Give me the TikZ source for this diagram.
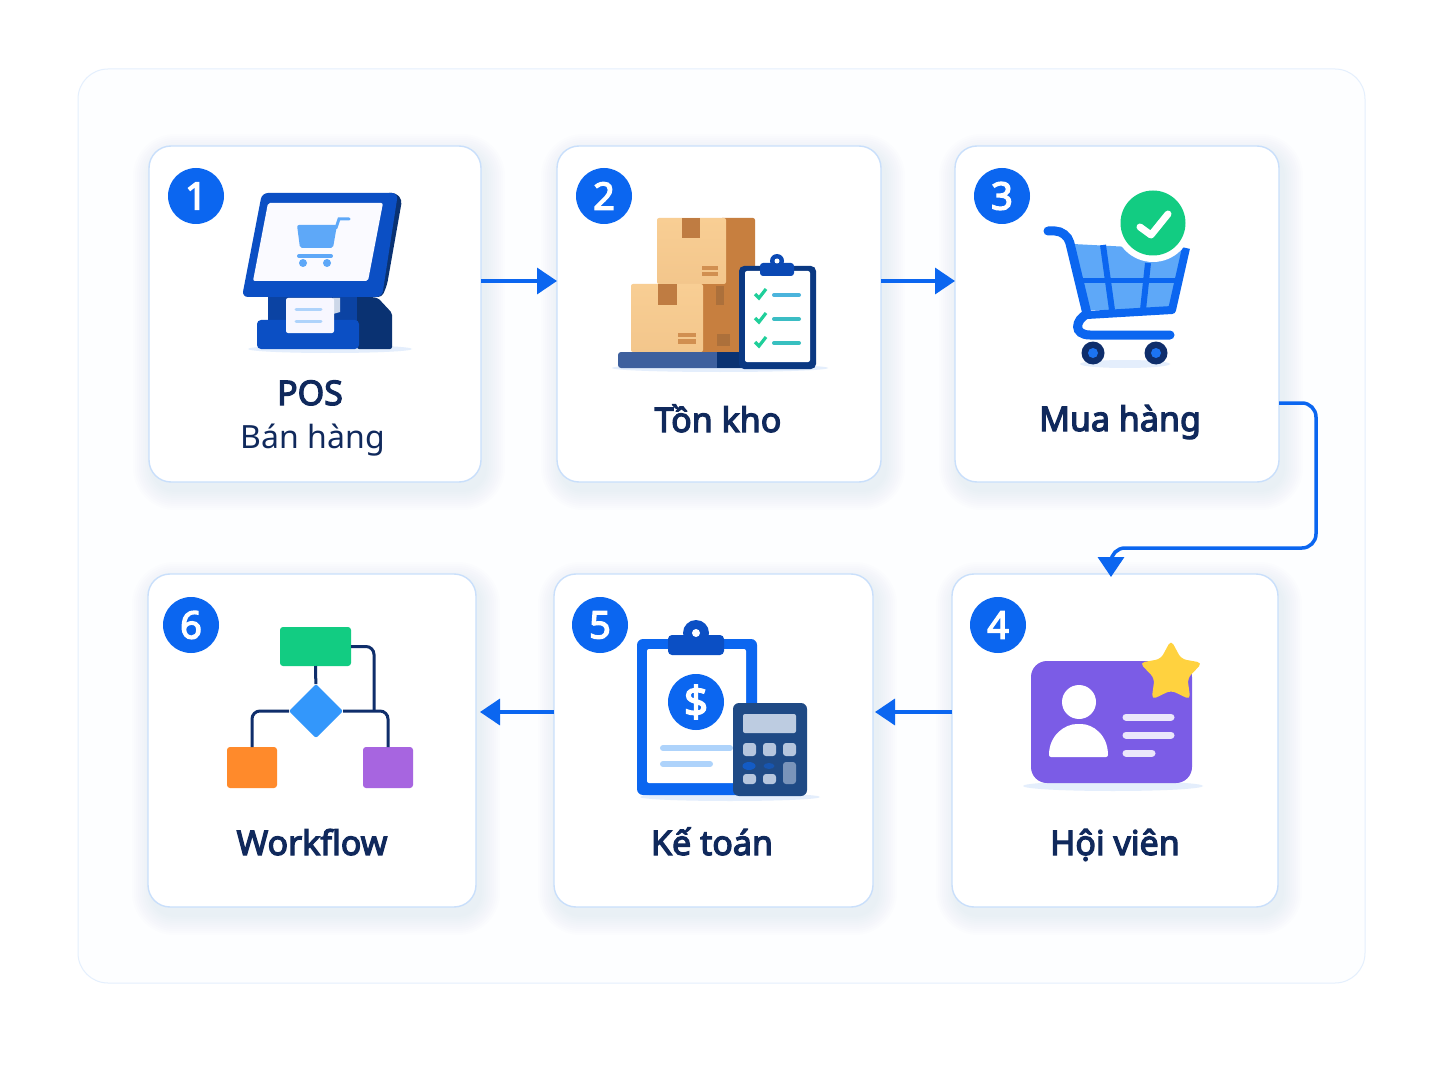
\documentclass[tikz,border=0pt]{standalone}
\usepackage{fontspec}
\setmainfont{Noto Sans}[BoldFont={Noto Sans},BoldFeatures={FakeBold=3.5}]
\usetikzlibrary{arrows.meta,shapes.geometric}
\definecolor{flow}{HTML}{0B66F0}
\definecolor{ink}{HTML}{10295C}
\definecolor{rim}{HTML}{C9DFFB}
\definecolor{glow}{HTML}{2F78F0}
\definecolor{floor}{HTML}{E4EEFC}
\definecolor{royal}{HTML}{0B4FC4}
\definecolor{deep}{HTML}{0A3272}
\definecolor{sky}{HTML}{5EA8F8}
\definecolor{boxa}{HTML}{F8CE94}
\definecolor{boxb}{HTML}{C77F3F}
\definecolor{boxc}{HTML}{BF7C42}
\definecolor{tick}{HTML}{1FCF9A}
\definecolor{mint}{HTML}{12CC82}
\definecolor{line}{HTML}{0F2E6B}
\definecolor{slate}{HTML}{1F4A85}
\definecolor{key}{HTML}{B6C6DE}
\definecolor{violet}{HTML}{7B5CE6}
\definecolor{dia}{HTML}{3397FB}
\definecolor{amber}{HTML}{FF8A2B}
\definecolor{lilac}{HTML}{A765E0}
\definecolor{gold}{HTML}{FFD23F}
\definecolor{paper}{HTML}{FDFEFF}
\begin{document}
\begin{tikzpicture}[x=0.5pt, y=-0.5pt, outer sep=0pt, inner sep=0pt]
\tikzstyle{p} = [draw=rim!50, fill=paper, line width=0.5pt, rounded corners=15pt, minimum width=643.5pt, minimum height=457pt]
\tikzstyle{c} = [draw=rim, fill=white, line width=0.7pt, rounded corners=11pt]
\tikzstyle{n} = [circle, fill=flow, text=white, minimum size=28pt, font=\fontsize{19}{19}\selectfont\bfseries]
\tikzstyle{l} = [anchor=base, text=ink, font=\fontsize{17}{20}\selectfont\bfseries]
\tikzstyle{s} = [anchor=base, text=ink, font=\fontsize{16}{20}\selectfont]
\tikzstyle{e} = [draw=flow, line width=1.75pt, -{Triangle[width=13pt,length=10pt]}]
\tikzstyle{w} = [draw=line, line width=1.5pt, rounded corners=4pt]
\tikzstyle{b} = [rectangle, rounded corners=1.5pt]
\useasboundingbox (0,0) rectangle (1448,1086);
\fill[white] (0,0) rectangle (1448,1086);

\node[p] (panel) at (721.5,526) {};

\foreach \n/\x/\y/\w/\h in {c1/315/314/332/336, c2/719/314/324/336, c3/1117/314/324/336, c4/1115/740.5/326/333, c5/713.5/740.5/319/333, c6/312/740.5/328/333} {
  \foreach \s in {1,...,10}
    \fill[glow, opacity=0.006, rounded corners={(11+\s)*1pt}] ({\x-\w/2-2*\s+4},{\y-\h/2-2*\s+8}) rectangle ({\x+\w/2+2*\s+4},{\y+\h/2+2*\s+8});
  \node[c, minimum width=\w*0.5pt, minimum height=\h*0.5pt] (\n) at (\x,\y) {};
}

\draw[e] ([yshift=16.5pt]c1.east) to ([yshift=16.5pt]c2.west);
\draw[e] ([yshift=16.5pt]c2.east) to ([yshift=16.5pt]c3.west);
\draw[e, rounded corners=7pt, shorten >=-1.5pt] ([yshift=-44.5pt]c3.east) -- ++(37,0) -- ++(0,145) -| ([xshift=-2pt]c4.north);
\draw[e, shorten >=1pt] ([yshift=14.25pt]c4.west) to ([yshift=14.25pt]c5.east);
\draw[e, shorten >=2pt] ([yshift=14.25pt]c5.west) to ([yshift=14.25pt]c6.east);

\node[n] (n1) at (196,196) {1};
\node[n] (n2) at (604,196) {2};
\node[n] (n3) at (1002,196) {3};
\node[n] (n4) at (998,625) {4};
\node[n] (n5) at (600,625) {5};
\node[n] (n6) at (191,625) {6};

\node[l] (pos) at (310,405) {POS};
\node[s] (ban) at (313,448) {Bán hàng};
\node[l] (ton) at (718,432) {Tồn kho};
\node[l] (mua) at (1120,431) {Mua hàng};
\node[l] (hoi) at (1115,855) {Hội viên};
\node[l] (ke) at (712,855) {Kế toán};
\node[l] (wf) at (312,855) {Workflow};

% POS
\fill[floor] (330,349) ellipse (82 and 4);
\fill[royal!60!deep] (268,290) rectangle (358,325);
\fill[deep, rounded corners=1pt] (357,295) -- (378,298) -- (392,313) -- (392,349) -- (357,349) -- cycle;
\fill[royal, rounded corners=2pt] (257,320) rectangle (359,349);
\fill[deep, rounded corners=2pt] (385,193) -- (396,193) -- (402,200) -- (387,285) -- (382,297) -- (370,297) -- cycle;
\fill[royal, rounded corners=3pt] (262,193) -- (398,193) -- (382,297) -- (242,297) -- cycle;
\fill[blue!2!white, rounded corners=1pt] (268,203) -- (383,203) -- (368,281) -- (253,281) -- cycle;
\fill[sky, rounded corners=1pt] (297,225) -- (337,225) -- (333,248) -- (300,248) -- cycle;
\draw[sky, line width=1.5pt, line cap=round] (336,228) -- (339,219) -- (349,219);
\draw[sky, line width=2pt, line cap=round] (299,256) -- (331,256);
\fill[sky] (303,263) circle (4);
\fill[sky] (327,263) circle (4);
\fill[key!70!white] (333,298) -- (340,298) -- (340,312) -- (333,314) -- cycle;
\fill[blue!3!white, rounded corners=1pt] (286,298) -- (334,298) -- (334,333) -- (286,333) -- cycle;
\draw[sky!50!white, line width=1.5pt, line cap=round] (296,310) -- (321,310);
\draw[sky!50!white, line width=1.5pt, line cap=round] (296,322) -- (321,322);

% boxes
\fill[floor] (720,368) ellipse (108 and 4);
\fill[boxb, rounded corners=1pt] (720,218) rectangle (755,290);
\shade[top color=boxa, bottom color=boxa!90!boxb, rounded corners=1pt] (657,218) rectangle (726,284);
\fill[boxc] (682,218) rectangle (700,238);
\fill[boxb!80!boxa] (702,266) rectangle (718,270);
\fill[boxb!80!boxa] (702,272) rectangle (718,276);
\fill[boxb] (700,284) rectangle (742,352);
\shade[top color=boxa, bottom color=boxa!90!boxb, rounded corners=1pt] (631,284) rectangle (703,352);
\fill[boxc] (658,284) rectangle (677,305);
\fill[boxb!80!boxa] (678,333) rectangle (696,337);
\fill[boxb!80!boxa] (678,339) rectangle (696,344);
\fill[boxc!90!black] (717,334) rectangle (730,346);
\fill[boxc!90!black] (716,286) rectangle (724,305);
\fill[royal!40!ink!80!white, rounded corners=1.5pt] (618,352) rectangle (745,368);
\fill[deep] (717,352) rectangle (745,368);
\fill[deep!80!royal, rounded corners=2.5pt] (739,266) rectangle (816,369);
\fill[white, rounded corners=1pt] (745,271) rectangle (810,362);
\fill[royal!80!deep] (777,261) circle (7);
\fill[royal!80!deep, rounded corners=1.5pt] (760,263) rectangle (794,276);
\fill[white] (777,261) circle (2.5);
\foreach \y/\col in {295/sky!70!tick, 319/sky!45!tick, 343/sky!40!tick} {
  \draw[tick, line width=1.6pt] (755,{\y-1}) -- (759,{\y+3}) -- (766,{\y-6});
  \draw[\col, line width=2pt, line cap=round] (774,\y) -- (799,\y);
}

% cart
\fill[floor] (1125,364) ellipse (45 and 4);
\fill[sky] (1073,244) -- (1187,250) -- (1173,310) -- (1088,310) -- cycle;
\draw[flow, line width=3pt] (1103,245) -- (1112,310);
\draw[flow, line width=3pt] (1148,263) -- (1143,310);
\draw[flow, line width=2.5pt] (1078,281) -- (1181,281);
\draw[flow, line width=4pt, line join=round] (1186,248) -- (1172,310) -- (1087,315);
\draw[flow, line width=4.5pt, line cap=round, rounded corners=6pt] (1048,231) -- (1067,231) -- (1087,314);
\draw[flow, line width=4.5pt, line cap=round] (1087,314) .. controls (1075,320) and (1073,335) .. (1090,335) -- (1170,335);
\fill[white] (1153,223) circle (39);
\fill[mint] (1153,223) circle (32.5);
\draw[white, line width=3.5pt, line cap=round, line join=round] (1140,227) -- (1151,235) -- (1168,214);
\foreach \x in {1093,1156} {
  \fill[line] (\x,353) circle (11.5);
  \fill[flow!80!sky] (\x,353) circle (5);
}

% card
\fill[floor] (1113,786) ellipse (90 and 5);
\fill[violet, rounded corners=8pt] (1031,661) rectangle (1192,783);
\fill[white] (1079,702) circle (17);
\fill[white, rounded corners=1pt] (1049,757) .. controls (1049,735) and (1065,724) .. (1079,724) .. controls (1093,724) and (1108,735) .. (1108,757) -- cycle;
\foreach \y/\xe in {717/1171, 735/1171, 753/1152}
  \draw[violet!15!white, line width=3.5pt, line cap=round] (1126,\y) -- (\xe,\y);
\node[star, star points=5, star point ratio=1.9, fill=gold, minimum size=33pt, rounded corners=2.5pt] (st) at (1171,673) {};

% clipboard
\fill[floor] (730,797) ellipse (90 and 4);
\fill[flow, rounded corners=3pt] (637,639) rectangle (757,795);
\fill[white, rounded corners=1pt] (647,649) rectangle (746,783);
\fill[royal] (696,633) circle (13);
\fill[royal, rounded corners=2pt] (668,635) rectangle (724,655);
\fill[white] (696,633) circle (4);
\node[circle, fill=flow, minimum size=28pt, text=white, font=\fontsize{21}{21}\selectfont\bfseries] (dollar) at (696,702) {\$};
\draw[sky!50!white, line width=3pt, line cap=round] (663,748) -- (730,748);
\draw[sky!50!white, line width=3pt, line cap=round] (663,764) -- (710,764);
\fill[slate, rounded corners=3pt] (733,703) rectangle (807,796);
\fill[key!90!white, rounded corners=1pt] (743,714) rectangle (796,733);
\foreach \x/\y/\h in {743/743/13, 763/743/13, 783/743/13, 743/774/10, 763/774/10}
  \fill[key, rounded corners=1.5pt] (\x,\y) rectangle ({\x+13},{\y+\h});
\fill[flow!60!slate] (749,766) ellipse (6.5 and 4);
\fill[flow!40!slate] (769,766) ellipse (5.5 and 3);
\fill[key!60!slate, rounded corners=1.5pt] (783,762) rectangle (796,784);

% workflow
\node[b, fill=mint, minimum width=35.5pt, minimum height=19.5pt] (wg) at (315.5,646.5) {};
\node[diamond, fill=dia, minimum size=27pt, rounded corners=1pt] (wd) at (316,711) {};
\node[b, fill=amber, minimum width=25pt, minimum height=20.5pt] (wo) at (252,767.5) {};
\node[b, fill=lilac, minimum width=25pt, minimum height=20.5pt] (wv) at (388,767.5) {};
\draw[w] (wg) -- (wd);
\draw[w] (wg.east) -| (374,711);
\draw[w] (wd.west) -| (wo.north);
\draw[w] (wd.east) -| (wv.north);
\end{tikzpicture}
\end{document}
